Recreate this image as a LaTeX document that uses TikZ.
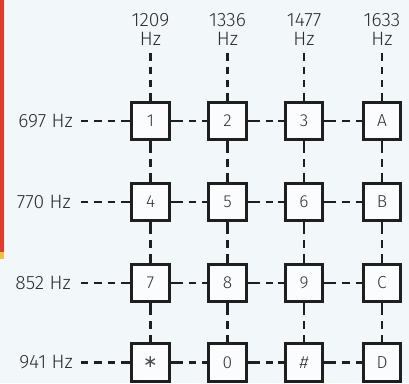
\documentclass[tikz,border=0pt]{standalone}
\usepackage{fontspec}
\setmainfont{Fira Sans Light}
\newfontfamily\symfont{DejaVu Sans}
\begin{document}
\begin{tikzpicture}[x=0.75pt,y=-0.75pt,
  ink/.style={draw=black!88},
  keybox/.style={ink,line width=2.1pt,minimum size=28pt,inner sep=0pt,
    fill=white!60!bluebg,font=\fontsize{13}{13}\selectfont,text=black!80},
  freq/.style={font=\fontsize{14.5}{14.5}\selectfont,text=black!82,inner sep=0pt},
  dashlink/.style={ink,line width=1.8pt,dash pattern=on 5.5pt off 4.5pt,
    shorten <=3.8pt,shorten >=3.8pt},
  stub/.style={ink,line width=1.8pt}
]
\definecolor{bluebg}{HTML}{F2F7FA}
\definecolor{redbar}{HTML}{E8392B}
\definecolor{yelbar}{HTML}{F2C23A}
% page and left edge strip
\fill[bluebg] (0,0) rectangle (409,383);
\useasboundingbox (0,0) rectangle (409,383);
\fill[redbar] (0,0) rectangle (3.5,252);
\fill[yelbar] (0,252) rectangle (3.5,259);

% column frequency labels
\node[freq] (c1) at (150.5,20) {1209};
\node[freq] (c2) at (227.5,20) {1336};
\node[freq] (c3) at (304,20) {1477};
\node[freq] (c4) at (382,20) {1633};
\node[freq] (h1) at (150.5,38.5) {Hz};
\node[freq] (h2) at (227.5,38.5) {Hz};
\node[freq] (h3) at (304,38.5) {Hz};
\node[freq] (h4) at (382,38.5) {Hz};
\foreach \i in {1,...,4}{
  \coordinate (t\i) at ([yshift=-6pt]h\i.south);
}

% row frequency labels
\node[freq,anchor=east] (r1) at (73,121) {697 Hz};
\node[freq,anchor=east] (r2) at (71,202) {770 Hz};
\node[freq,anchor=east] (r3) at (71,283) {852 Hz};
\node[freq,anchor=east] (r4) at (73,362.5) {941 Hz};
\coordinate (l1) at (81,121);
\coordinate (l2) at (81,202);
\coordinate (l3) at (81,283);
\coordinate (l4) at (81,362.5);

% keys
\node[keybox] (k11) at (150.5,121) {1};
\node[keybox] (k12) at (227.5,121) {2};
\node[keybox] (k13) at (304,121) {3};
\node[keybox] (k14) at (382,121) {A};
\node[keybox] (k21) at (150.5,202) {4};
\node[keybox] (k22) at (227.5,202) {5};
\node[keybox] (k23) at (304,202) {6};
\node[keybox] (k24) at (382,202) {B};
\node[keybox] (k31) at (150.5,283) {7};
\node[keybox] (k32) at (227.5,283) {8};
\node[keybox] (k33) at (304,283) {9};
\node[keybox] (k34) at (382,283) {C};
\node[keybox,text=black!70] (k41) at (150.5,362.5) {\symfont\fontsize{13}{13}\selectfont\raisebox{-0.2ex}{∗}};
\node[keybox] (k42) at (227.5,362.5) {0};
\node[keybox] (k43) at (304,362.5) {\itshape\#};
\node[keybox] (k44) at (382,362.5) {D};

% solid stubs where the lines meet the keys
\foreach \j in {1,...,4}{
  \foreach \i in {1,...,4}{
    \draw[stub] (k\j\i.north) -- ++(0,-5.5);
    \draw[stub] (k\j\i.west) -- ++(-5.5,0);
    \ifnum\i<4 \draw[stub] (k\j\i.east) -- ++(5.5,0); \fi
    \ifnum\j<4 \draw[stub] (k\j\i.south) -- ++(0,5.5); \fi
  }
}

% dashed signal lines
\foreach \i in {1,...,4}{
  \draw[dashlink,shorten <=0pt] (t\i) -- (k1\i.north);
  \draw[dashlink] (k1\i.south) -- (k2\i.north);
  \draw[dashlink] (k2\i.south) -- (k3\i.north);
  \draw[dashlink] (k3\i.south) -- (k4\i.north);
}
\foreach \j in {1,...,4}{
  \draw[dashlink,shorten <=0pt] (l\j) -- (k\j1.west);
  \draw[dashlink] (k\j1.east) -- (k\j2.west);
  \draw[dashlink] (k\j2.east) -- (k\j3.west);
  \draw[dashlink] (k\j3.east) -- (k\j4.west);
}
\end{tikzpicture}
\end{document}
